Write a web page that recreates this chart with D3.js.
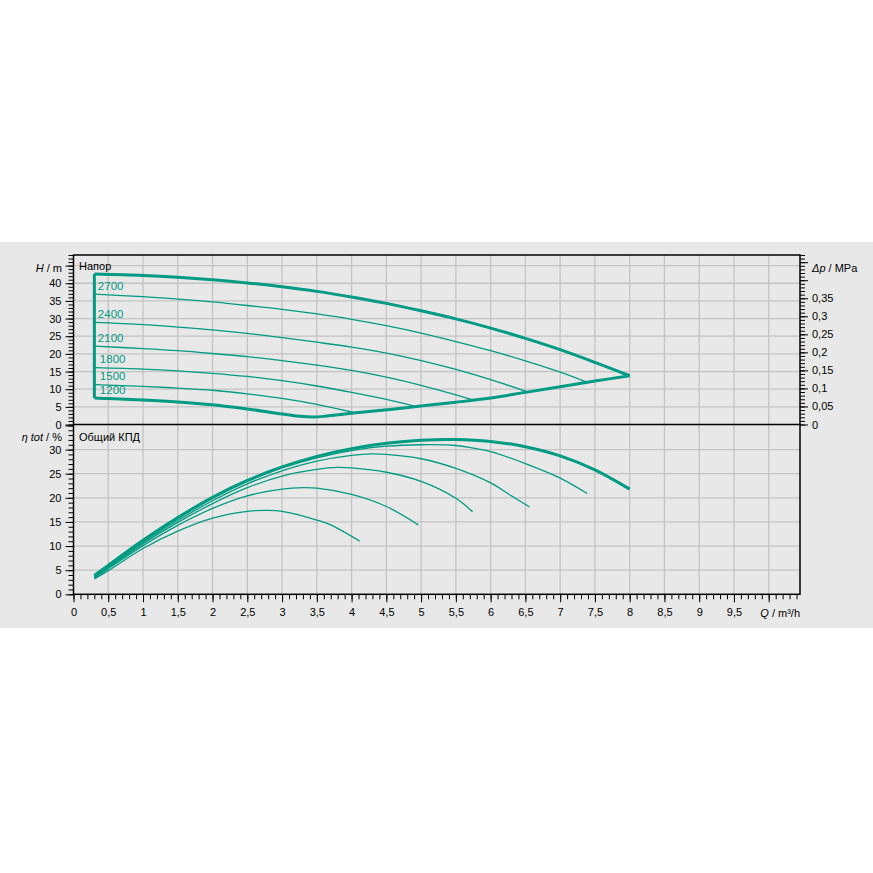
<!DOCTYPE html>
<html>
<head>
<meta charset="utf-8">
<script src="https://cdn.jsdelivr.net/npm/d3@7"></script>
<style>
  html, body { margin: 0; padding: 0; background: #ffffff; }
  svg text { font-family: "Liberation Sans", Arial, sans-serif; }
</style>
</head>
<body>
<svg id="chart" width="873" height="873"></svg>
<script>
// ---------------- DATA ----------------
// Pump speeds (rpm) of the family curves; the top thick curve is max speed
const speedLabels = ["2700", "2400", "2100", "1800", "1500", "1200"];

// Head curves H (m) vs Q (m³/h)
const headMax = [[0.3,42.6],[1,42.2],[1.5,41.7],[2,41.0],[2.5,40.1],[3,39.0],[3.5,37.7],[4,36.1],[4.5,34.3],[5,32.2],[5.5,29.9],[6,27.3],[6.5,24.4],[7,21.2],[7.5,17.6],[8,13.8]];
const head2700 = [[0.3,36.9],[1,36.2],[1.5,35.5],[2,34.7],[2.5,33.7],[3,32.6],[3.5,31.3],[4,29.8],[4.5,28.0],[5,25.9],[5.5,23.5],[6,20.9],[6.5,18.0],[7,14.8],[7.38,12.0]];
const head2400 = [[0.3,28.9],[1,28.3],[1.5,27.6],[2,26.8],[2.5,25.8],[3,24.6],[3.5,23.3],[4,21.9],[4.5,20.2],[5,18.1],[5.5,15.6],[6,12.7],[6.53,9.25]];
const head2100 = [[0.3,22.2],[1,21.5],[1.5,20.9],[2,20.1],[2.5,19.2],[3,18.1],[3.5,16.8],[4,15.3],[4.5,13.4],[5,11.1],[5.5,8.4],[5.72,7.1]];
const head1800 = [[0.3,16.1],[1,15.7],[1.5,15.2],[2,14.5],[2.5,13.6],[3,12.4],[3.5,10.9],[4,9.1],[4.5,7.1],[4.9,5.2]];
const head1500 = [[0.3,11.3],[1,10.8],[1.5,10.3],[2,9.7],[2.5,8.7],[3,7.4],[3.5,5.7],[4.03,3.4]];
// 1200 rpm curve followed by the max-flow boundary (lower envelope)
const headMinEnvelope = [[0.3,7.5],[0.5,7.35],[1,6.95],[1.5,6.4],[2,5.6],[2.5,4.4],[3,3.0],[3.25,2.35],[3.45,2.15],[3.6,2.3],[4.07,3.3],[4.55,4.25],[5.03,5.3],[5.5,6.3],[6,7.5],[6.5,9.1],[7,10.7],[7.5,12.3],[8,13.8]];
// Min-flow boundary (vertical line)
const minFlowLine = [[0.3,7.5],[0.3,42.6]];

const headThin = [head2700, head2400, head2100, head1800, head1500];
const labelAnchors = [head2700, head2400, head2100, head1800, head1500, headMinEnvelope];

// Efficiency curves η tot (%) vs Q
const etaMax = [[0.3,3.9],[0.5,6.0],[1,11.2],[1.5,15.9],[2,20.1],[2.5,23.6],[3,26.4],[3.5,28.6],[4,30.2],[4.5,31.3],[5,31.95],[5.5,32.1],[6,31.7],[6.5,30.6],[7,28.7],[7.5,25.8],[8,21.8]];
const eta2700 = [[0.3,3.8],[0.5,5.9],[1,11.1],[1.5,15.7],[2,19.9],[2.5,23.4],[3,26.2],[3.5,28.3],[4,29.8],[4.5,30.7],[5,31.0],[5.5,30.85],[5.75,30.3],[6,29.6],[6.5,27.1],[7,24.1],[7.39,20.9]];
const eta2400 = [[0.3,3.6],[0.5,5.7],[1,10.8],[1.5,15.3],[2,19.4],[2.5,22.9],[3,25.6],[3.5,27.6],[4,28.8],[4.3,29.1],[4.5,29.0],[5,28.1],[5.5,26.1],[6,23.1],[6.3,20.4],[6.56,18.1]];
const eta2100 = [[0.3,3.5],[0.5,5.5],[1,10.5],[1.5,14.9],[2,18.8],[2.5,22.1],[3,24.5],[3.5,25.9],[3.8,26.3],[4,26.2],[4.5,25.3],[5,23.4],[5.5,19.9],[5.74,17.1]];
const eta1800 = [[0.3,3.4],[0.5,5.3],[1,10.1],[1.5,14.3],[2,17.8],[2.5,20.4],[3,21.8],[3.3,22.1],[3.5,22.0],[4,20.7],[4.5,18.2],[4.96,14.4]];
const eta1500 = [[0.3,3.2],[0.5,4.9],[1,9.5],[1.5,13.1],[2,15.8],[2.5,17.2],[2.8,17.4],[3,17.2],[3.5,15.4],[3.7,14.4],[4.12,11.0]];
const etaThin = [eta2700, eta2400, eta2100, eta1800, eta1500];

// Axis ticks
const qMajorTicks = d3.range(0, 10.01, 0.5);
const qMinorTicks = d3.range(0, 10.45, 0.1);
const hMajorTicks = d3.range(0, 46, 5);
const hMinorTicks = d3.range(0, 49, 1);
const pMajorTicks = d3.range(0, 0.451, 0.05);
const pMinorTicks = d3.range(0, 0.471, 0.01);
const etaMajorTicks = d3.range(0, 36, 5);
const etaMinorTicks = d3.range(0, 36, 1);

// ---------------- LAYOUT ----------------
const W = 873, H = 873;
const bandTop = 242, bandBottom = 628;
const L = 73.5, R = 800;
const topY0 = 255, midY = 424.5, botY1 = 594.3;
const teal = "#009b82";
const bg = "#e8e8e8";
const gridCol = "#c3c3c3";
const FONT = "'Liberation Sans', Arial, sans-serif";

const svg = d3.select("#chart");
svg.append("rect").attr("x", 0).attr("y", bandTop).attr("width", W).attr("height", bandBottom - bandTop).attr("fill", bg);

const x = d3.scaleLinear().domain([0, 10.45]).range([L, R]);
const yH = d3.scaleLinear().domain([0, 48]).range([midY, topY0]);
const yP = d3.scaleLinear().domain([0, 48 * 0.00979]).range([midY, topY0]);
const yE = d3.scaleLinear().domain([0, 35.2]).range([botY1, midY]);

const comma = d => String(+d.toFixed(2)).replace(".", ",");

// Grid
const grid = svg.append("g").attr("stroke", gridCol).attr("stroke-width", 1.3);
qMajorTicks.filter(d => d > 0).forEach(q => {
  grid.append("line").attr("x1", x(q)).attr("x2", x(q)).attr("y1", topY0).attr("y2", botY1);
});
hMajorTicks.filter(d => d > 0).forEach(h => {
  grid.append("line").attr("x1", L).attr("x2", R).attr("y1", yH(h)).attr("y2", yH(h));
});
etaMajorTicks.filter(d => d > 0 && d < 35).forEach(e => {
  grid.append("line").attr("x1", L).attr("x2", R).attr("y1", yE(e)).attr("y2", yE(e));
});

// Curves
const smooth = d3.curveCatmullRom.alpha(0.5);
const lineH = d3.line().x(d => x(d[0])).y(d => yH(d[1])).curve(smooth);
const lineE = d3.line().x(d => x(d[0])).y(d => yE(d[1])).curve(smooth);
const lineStraight = d3.line().x(d => x(d[0])).y(d => yH(d[1]));

const curves = svg.append("g").attr("fill", "none").attr("stroke", teal).attr("stroke-linejoin", "round");
headThin.forEach(c => curves.append("path").attr("d", lineH(c)).attr("stroke-width", 1.3));
curves.append("path").attr("d", lineH(headMax)).attr("stroke-width", 3);
curves.append("path").attr("d", lineH(headMinEnvelope)).attr("stroke-width", 3);
curves.append("path").attr("d", lineStraight(minFlowLine)).attr("stroke-width", 3);

etaThin.forEach(c => curves.append("path").attr("d", lineE(c)).attr("stroke-width", 1.3));
curves.append("path").attr("d", lineE(etaMax)).attr("stroke-width", 3);

// Speed labels
svg.append("g").selectAll("text").data(speedLabels).join("text")
  .attr("x", (d, i) => x(labelAnchors[i][0][0]) + (i < 3 ? 3.5 : 5.5))
  .attr("y", (d, i) => yH(labelAnchors[i][0][1]) - 4.5)
  .attr("fill", teal).attr("font-size", 11.5).attr("font-family", FONT)
  .text(d => d);

// Axes
function styleAxis(g) {
  g.select(".domain").remove();
  g.selectAll(".tick line").attr("stroke", "#000").attr("stroke-width", 1);
  g.selectAll(".tick text").attr("fill", "#000").attr("font-size", 11).attr("font-family", FONT);
}
// Left H
svg.append("g").attr("transform", `translate(${L},0)`)
  .call(d3.axisLeft(yH).tickValues(hMinorTicks).tickSize(5).tickFormat("")).call(styleAxis);
svg.append("g").attr("transform", `translate(${L},0)`)
  .call(d3.axisLeft(yH).tickValues(hMajorTicks).tickSize(8).tickPadding(4).tickFormat(d => d <= 40 ? comma(d) : "")).call(styleAxis);
// Right Δp
svg.append("g").attr("transform", `translate(${R},0)`)
  .call(d3.axisRight(yP).tickValues(pMinorTicks).tickSize(5).tickFormat("")).call(styleAxis);
svg.append("g").attr("transform", `translate(${R},0)`)
  .call(d3.axisRight(yP).tickValues(pMajorTicks).tickSize(8).tickPadding(4).tickFormat(d => d <= 0.351 ? comma(d) : "")).call(styleAxis);
// Left η
svg.append("g").attr("transform", `translate(${L},0)`)
  .call(d3.axisLeft(yE).tickValues(etaMinorTicks).tickSize(5).tickFormat("")).call(styleAxis);
svg.append("g").attr("transform", `translate(${L},0)`)
  .call(d3.axisLeft(yE).tickValues(etaMajorTicks).tickSize(8).tickPadding(4).tickFormat(d => d <= 30 ? comma(d) : "")).call(styleAxis);
// Bottom Q
svg.append("g").attr("transform", `translate(0,${botY1})`)
  .call(d3.axisBottom(x).tickValues(qMinorTicks).tickSize(5).tickFormat("")).call(styleAxis);
svg.append("g").attr("transform", `translate(0,${botY1})`)
  .call(d3.axisBottom(x).tickValues(qMajorTicks).tickSize(8).tickPadding(6).tickFormat(d => d < 10 ? comma(d) : "")).call(styleAxis);

// Frame
const frame = svg.append("g").attr("stroke", "#000").attr("stroke-width", 1.5).attr("fill", "none");
frame.append("rect").attr("x", L).attr("y", topY0).attr("width", R - L).attr("height", botY1 - topY0);
frame.append("line").attr("x1", L).attr("x2", R).attr("y1", midY).attr("y2", midY);

// Axis titles
function title(xp, yp, anchor, italicPart, rest) {
  const t = svg.append("text").attr("x", xp).attr("y", yp).attr("dy", "0.35em")
    .attr("text-anchor", anchor).attr("font-size", 11).attr("font-family", FONT).attr("fill", "#000");
  t.append("tspan").attr("font-style", "italic").text(italicPart);
  t.append("tspan").text(rest);
}
title(62, yH(44.3), "end", "H", " / m");
title(812, yH(44.3), "start", "Δp", " / MPa");
title(62, yE(32.6), "end", "η tot", " / %");
title(R, botY1 + 19, "end", "Q", " / m³/h");

// Panel titles
svg.append("text").attr("x", 79).attr("y", yH(44.9)).attr("dy", "0.35em").attr("font-size", 11).attr("font-family", FONT).attr("fill", "#000").text("Напор");
svg.append("text").attr("x", 79).attr("y", yE(32.6)).attr("dy", "0.35em").attr("font-size", 11).attr("font-family", FONT).attr("fill", "#000").text("Общий КПД");
</script>
</body>
</html>
